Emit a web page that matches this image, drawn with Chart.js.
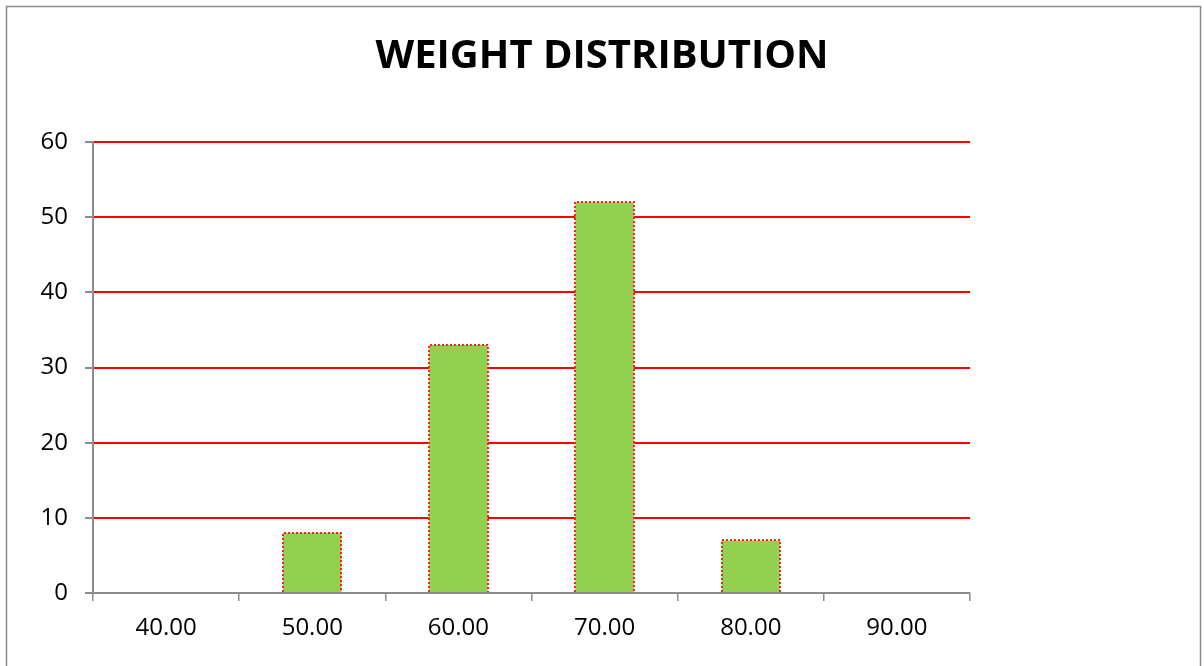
<!DOCTYPE html>
<html>
<head>
<meta charset="utf-8">
<title>Weight Distribution</title>
<script src="https://cdn.jsdelivr.net/npm/chart.js@4/dist/chart.umd.min.js"></script>
<style>
  html, body { margin: 0; padding: 0; background: #ffffff; }
  #wrap { width: 1204px; height: 666px; position: relative; }
</style>
</head>
<body>
<div id="wrap"><canvas id="chart" width="1204" height="666"></canvas></div>
<script>
// Weight classes (bin labels) and how many people fall into each
const weightClasses = ['40.00', '50.00', '60.00', '70.00', '80.00', '90.00'];
const counts = [0, 8, 33, 52, 7, 0];

// Y axis range
const yMin = 0;
const yMax = 60;
const yStep = 10;

const FONT = '"Open Sans", "Liberation Sans", sans-serif';
const AXIS_GREY = '#8c8c8c';

// Frame around the whole chart
const framePlugin = {
  id: 'frame',
  beforeDraw(chart) {
    const ctx = chart.ctx;
    ctx.save();
    ctx.fillStyle = '#ffffff';
    ctx.fillRect(0, 0, chart.width, chart.height);
    ctx.strokeStyle = '#8a8a8a';
    ctx.lineWidth = 1.5;
    ctx.strokeRect(6.5, 6.5, 1194, chart.height + 10);
    ctx.restore();
  }
};

// Dotted red outline around each bar
const dottedBorderPlugin = {
  id: 'dottedBorder',
  afterDatasetsDraw(chart) {
    const ctx = chart.ctx;
    const meta = chart.getDatasetMeta(0);
    ctx.save();
    ctx.strokeStyle = '#ff2020';
    ctx.lineWidth = 2;
    ctx.setLineDash([2, 2]);
    meta.data.forEach((bar, i) => {
      if (!counts[i]) return;
      const p = bar.getProps(['x', 'y', 'base', 'width'], true);
      const left = Math.round(p.x - p.width / 2);
      const right = Math.round(p.x + p.width / 2);
      const top = Math.round(p.y);
      const bottom = Math.round(p.base);
      ctx.beginPath();
      ctx.moveTo(left, bottom);
      ctx.lineTo(left, top);
      ctx.lineTo(right, top);
      ctx.lineTo(right, bottom);
      ctx.stroke();
    });
    ctx.restore();
  }
};

new Chart(document.getElementById('chart'), {
  type: 'bar',
  data: {
    labels: weightClasses,
    datasets: [{
      data: counts,
      backgroundColor: '#92d050',
      borderWidth: 0,
      categoryPercentage: 1.0,
      barPercentage: 0.4
    }]
  },
  options: {
    responsive: false,
    animation: false,
    devicePixelRatio: 1,
    layout: { padding: 0 },
    plugins: {
      legend: { display: false },
      tooltip: { enabled: false },
      title: {
        display: true,
        text: 'WEIGHT DISTRIBUTION',
        color: '#000000',
        font: { family: FONT, size: 40, weight: 'bold', lineHeight: 1.2 },
        padding: { top: 33, bottom: 61 }
      }
    },
    scales: {
      x: {
        grid: {
          display: true,
          offset: true,
          drawOnChartArea: false,
          drawTicks: true,
          tickLength: 8,
          color: AXIS_GREY,
          lineWidth: 1.5
        },
        border: { display: true, color: AXIS_GREY, width: 2 },
        ticks: {
          color: '#000000',
          font: { family: FONT, size: 24 },
          padding: 13,
          maxRotation: 0
        },
        afterFit(scale) { scale.height = 73; }
      },
      y: {
        min: yMin,
        max: yMax,
        ticks: {
          stepSize: yStep,
          color: '#000000',
          font: { family: FONT, size: 24 },
          padding: 17
        },
        grid: {
          color: (c) => (c.tick && c.tick.value === 0 ? 'rgba(0,0,0,0)' : '#ff0000'),
          lineWidth: 2,
          tickColor: AXIS_GREY,
          tickLength: 8,
          drawTicks: true
        },
        border: { display: true, color: AXIS_GREY, width: 2 },
        afterFit(scale) { scale.width = 93; }
      },
      // empty strip on the right, where the plot area stops short of the frame
      gutter: {
        position: 'right',
        display: true,
        grid: { display: false },
        border: { display: false },
        ticks: { display: false },
        afterFit(scale) { scale.width = 234; }
      }
    }
  },
  plugins: [framePlugin, dottedBorderPlugin]
});
</script>
</body>
</html>
